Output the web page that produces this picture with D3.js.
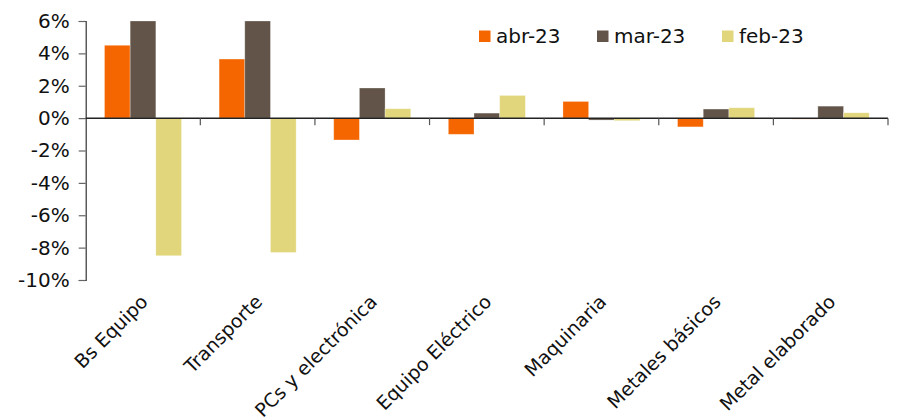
<!DOCTYPE html>
<html>
<head>
<meta charset="utf-8">
<script src="https://cdn.jsdelivr.net/npm/d3@7/dist/d3.min.js"></script>
<style>
  html, body { margin: 0; padding: 0; background: #fff; }
  svg { display: block; font-family: "DejaVu Sans", sans-serif; }
</style>
</head>
<body>
<svg id="chart" width="903" height="417"></svg>
<script>
// Sector categories (x axis)
const categories = ["Bs Equipo", "Transporte", "PCs y electrónica", "Equipo Eléctrico",
                    "Maquinaria", "Metales básicos", "Metal elaborado"];
// Monthly change, %
const seriesNames = ["abr-23", "mar-23", "feb-23"];
const abr23 = [4.5, 3.65, -1.35, -1.0, 1.03, -0.54, -0.06];
const mar23 = [6.0, 6.0, 1.86, 0.31, -0.12, 0.56, 0.74];
const feb23 = [-8.5, -8.3, 0.58, 1.40, -0.16, 0.64, 0.33];
const seriesColors = ["#F56600", "#625448", "#E1D67B"];
const yTicks = [-10, -8, -6, -4, -2, 0, 2, 4, 6];

const series = [abr23, mar23, feb23];
const svg = d3.select("#chart");

const margin = { left: 85.7, right: 888, top: 21, bottom: 280 };

const y = d3.scaleLinear().domain([-10, 6]).range([margin.bottom, margin.top]).clamp(true);
const x = d3.scaleBand().domain(categories).range([margin.left, margin.right]).paddingInner(0).paddingOuter(0);
const groupW = x.bandwidth() * 0.672;
const xs = d3.scaleBand().domain(seriesNames).range([0, groupW]).padding(0);

// Bars
series.forEach((vals, si) => {
  svg.append("g").selectAll("rect")
    .data(vals)
    .join("rect")
    .attr("x", (d, i) => x(categories[i]) + (x.bandwidth() - groupW) / 2 + xs(seriesNames[si]))
    .attr("width", xs.bandwidth())
    .attr("y", d => Math.min(y(d), y(0)))
    .attr("height", d => Math.max(Math.abs(y(d) - y(0)), 0.8))
    .attr("fill", seriesColors[si])
    .attr("stroke", "#fff")
    .attr("stroke-opacity", 0.35)
    .attr("stroke-width", 0.8);
});

// Y axis
const yAxis = d3.axisLeft(y)
  .tickValues(yTicks)
  .tickSize(7)
  .tickPadding(9)
  .tickFormat(d => d + "%");
const gy = svg.append("g").attr("transform", `translate(${margin.left},0)`).call(yAxis);
gy.select(".domain").attr("stroke", "#333").attr("stroke-width", 1.2);
gy.selectAll(".tick line").attr("stroke", "#666").attr("stroke-width", 1.2);
gy.selectAll(".tick text").attr("font-size", 20).attr("fill", "#111")
  .attr("font-family", "DejaVu Sans, sans-serif");

// X axis at zero, ticks between categories
const xAxisG = svg.append("g");
xAxisG.append("line")
  .attr("x1", margin.left).attr("x2", margin.right)
  .attr("y1", y(0)).attr("y2", y(0))
  .attr("stroke", "#222").attr("stroke-width", 1.5);
const boundaries = categories.map(c => x(c)).concat([margin.right]);
xAxisG.selectAll("line.tk")
  .data(boundaries.slice(1))
  .join("line")
  .attr("class", "tk")
  .attr("x1", d => d).attr("x2", d => d)
  .attr("y1", y(0)).attr("y2", y(0) + 7)
  .attr("stroke", "#555").attr("stroke-width", 1.2);

// Category labels, rotated
svg.append("g").selectAll("text")
  .data(categories)
  .join("text")
  .attr("transform", d => `translate(${x(d) + x.bandwidth() / 2 + 6},${303}) rotate(-45)`)
  .attr("text-anchor", "end")
  .attr("font-size", 19)
  .attr("fill", "#111")
  .text(d => d);

// Legend
const legendX = [479, 597, 722];
const lg = svg.append("g");
seriesNames.forEach((name, i) => {
  lg.append("rect")
    .attr("x", legendX[i]).attr("y", 30.5)
    .attr("width", 11.5).attr("height", 11.5)
    .attr("fill", seriesColors[i]);
  lg.append("text")
    .attr("x", legendX[i] + 17).attr("y", 42.5)
    .attr("font-size", 20)
    .attr("fill", "#111")
    .text(name);
});
</script>
</body>
</html>
